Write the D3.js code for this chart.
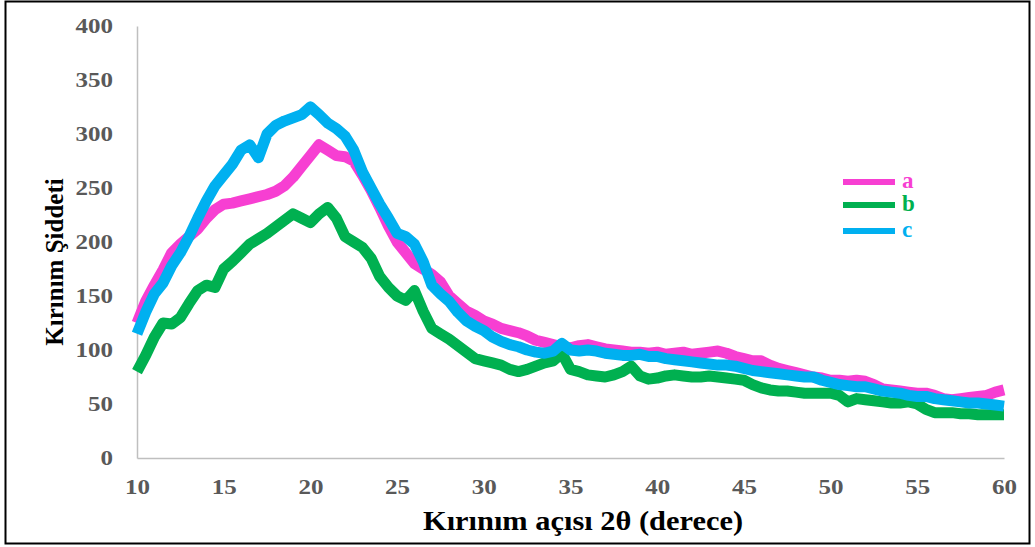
<!DOCTYPE html>
<html><head><meta charset="utf-8">
<script src="https://cdn.jsdelivr.net/npm/d3@7"></script>
<style>body{margin:0;background:#fff}svg{display:block}</style>
</head><body>
<script>
const angles = d3.range(0, 101).map(i => 10 + i * 0.5);
const seriesA = [125,145,160,174,190,198,205,212,222,230,235,236,238,240,242,244,247,252,260,270,280,290,285,280,279,275,262,248,232,215,200,190,180,175,170,163,150,143,136,132,127,124,120,118,116,113,109,107,105,103,102,104,105,103,101,100,99,98,98,97,98,96,97,98,96,97,98,99,97,94,92,90,90,86,83,81,79,77,75,74,72,72,71,72,71,68,64,63,62,61,60,60,58,55,54,55,56,57,58,61,63];
const seriesB = [80,95,112,125,124,130,143,155,160,158,175,182,190,198,203,208,214,220,226,222,218,226,232,222,205,200,195,185,168,158,150,146,155,136,120,115,110,104,98,92,90,88,86,82,80,82,85,88,90,97,82,80,77,76,75,77,80,85,76,73,74,76,77,76,75,75,76,75,74,73,72,68,65,63,62,62,61,60,60,60,60,58,52,55,54,53,52,51,51,52,50,45,42,42,42,41,41,40,40,40,40];
const seriesC = [115,135,152,162,178,190,205,222,238,252,262,272,285,290,278,300,308,312,315,318,325,318,310,305,298,285,265,250,235,222,208,205,198,182,160,152,145,135,127,122,118,112,108,105,103,100,98,97,99,106,100,99,100,99,97,96,95,95,96,94,94,92,91,90,89,88,87,86,86,85,83,81,80,79,78,77,76,75,75,72,70,68,67,66,66,64,62,61,60,58,57,57,55,54,53,52,51,51,50,49,48];
const seriesNames = ["a","b","c"];
const seriesColors = ["#f73fd2","#00b050","#00b0f0"];
const xTicks = [10,15,20,25,30,35,40,45,50,55,60];
const yTicks = [0,50,100,150,200,250,300,350,400];
const xTitle = "Kırınım açısı 2θ (derece)";
const yTitle = "Kırınım Şiddeti";

const W = 1035, H = 547;
const svg = d3.select("body").append("svg").attr("width", W).attr("height", H);
svg.append("rect").attr("x",5.5).attr("y",1.5).attr("width",1024).attr("height",542)
  .attr("fill","none").attr("stroke","#000").attr("stroke-width",2);

const x = d3.scaleLinear().domain([10,60]).range([137,1004]);
const y = d3.scaleLinear().domain([0,400]).range([458,26]);

const font = "'Liberation Serif','Times New Roman',serif";

// axes
const xAxis = svg.append("g").attr("transform","translate(0,458)")
  .call(d3.axisBottom(x).tickValues(xTicks).tickSize(0).tickPadding(18).tickFormat(d3.format("d")));
const yAxis = svg.append("g").attr("transform","translate(137,0)")
  .call(d3.axisLeft(y).tickValues(yTicks).tickSize(0).tickPadding(24).tickFormat(d3.format("d")));
[xAxis,yAxis].forEach(g => {
  g.select(".domain").attr("stroke","#bfbfbf").attr("stroke-width",1.5);
  g.selectAll("text").attr("fill","#595959").attr("font-family",font)
   .attr("font-size",21).attr("font-weight","bold")
   .attr("textLength", function(){ return this.textContent.length * 12.5; })
   .attr("lengthAdjust","spacingAndGlyphs");
});
xAxis.selectAll("text").attr("y",36).attr("dy",0);

// series
const data = [seriesA, seriesB, seriesC];
const line = d3.line().x((d,i) => x(angles[i])).y(d => y(d));
data.forEach((s,k) => {
  svg.append("path").datum(s).attr("d", line)
    .attr("fill","none").attr("stroke", seriesColors[k])
    .attr("stroke-width", 11).attr("stroke-linejoin","round").attr("stroke-linecap","butt");
});

// legend
seriesNames.forEach((n,k) => {
  const ly = [182,205,231][k];
  svg.append("line").attr("x1",843).attr("x2",895).attr("y1",ly).attr("y2",ly)
    .attr("stroke",seriesColors[k]).attr("stroke-width",6);
  svg.append("text").attr("x",902).attr("y",ly+6).text(n)
    .attr("fill",seriesColors[k]).attr("font-family",font).attr("font-weight","bold").attr("font-size",23);
});

// titles
svg.append("text").attr("x",583).attr("y",530).attr("text-anchor","middle").text(xTitle)
  .attr("font-family",font).attr("font-weight","bold").attr("font-size",27).attr("fill","#000")
  .attr("textLength",320).attr("lengthAdjust","spacingAndGlyphs");
svg.append("text").attr("transform","translate(63,262) rotate(-90)").attr("text-anchor","middle").text(yTitle)
  .attr("font-family",font).attr("font-weight","bold").attr("font-size",25).attr("fill","#000");
</script>
</body></html>
